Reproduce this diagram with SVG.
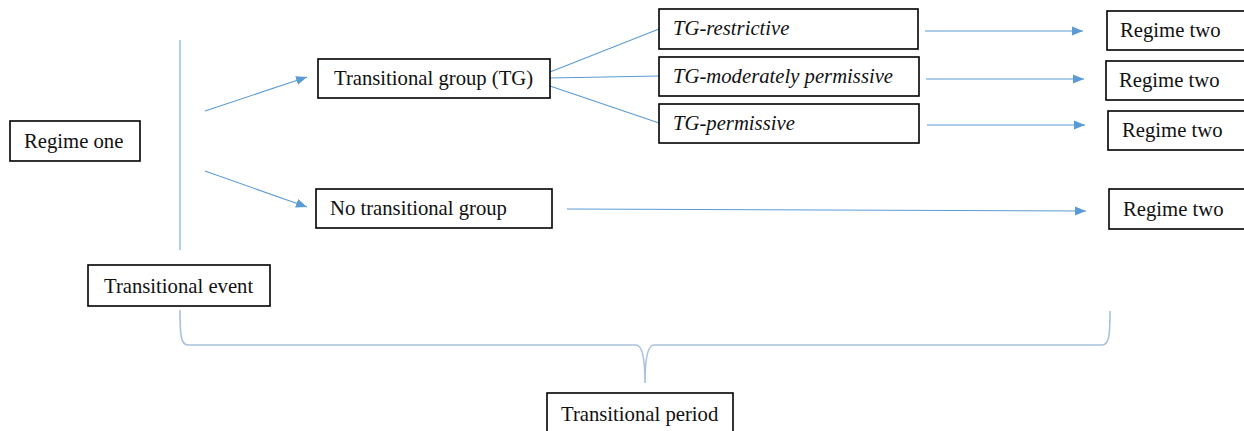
<svg xmlns="http://www.w3.org/2000/svg" width="1244" height="431" viewBox="0 0 1244 431">
  <style>
    .box { fill: #ffffff; stroke: #000000; stroke-width: 1.6; }
    .lbl { font-family: "Liberation Serif", "Times New Roman", serif; font-size: 20.7px; fill: #111111; }
    .it { font-style: italic; }
    .link { fill: none; stroke: #5B9BD5; stroke-width: 1.1; }
    .arrow { fill: none; stroke: #5B9BD5; stroke-width: 1.1; marker-end: url(#head); }
    .axis { fill: none; stroke: #9DC3E6; stroke-width: 1.6; }
    .brace { fill: none; stroke: #A9C1DC; stroke-width: 1.6; }
  </style>
  <defs>
    <marker id="head" markerUnits="userSpaceOnUse" markerWidth="12" markerHeight="10" refX="11" refY="5" orient="auto">
      <path d="M0,0.5 L11,5 L0,9.5 Z" fill="#5B9BD5"/>
    </marker>
  </defs>
  <rect width="1244" height="431" fill="#ffffff"/>

  <!-- connectors -->
  <g id="connectors">
    <line class="axis" x1="180" y1="40" x2="180" y2="250"/>
    <line class="arrow" x1="205" y1="111" x2="307" y2="77"/>
    <line class="arrow" x1="205" y1="171" x2="307" y2="207"/>
    <line class="link" x1="550" y1="72" x2="659" y2="29"/>
    <line class="link" x1="550" y1="78" x2="659" y2="76"/>
    <line class="link" x1="550" y1="86" x2="659" y2="123"/>
    <line class="arrow" x1="925" y1="31" x2="1083" y2="31"/>
    <line class="arrow" x1="926" y1="79" x2="1084" y2="79"/>
    <line class="arrow" x1="927" y1="125" x2="1085" y2="125"/>
    <line class="arrow" x1="567" y1="209" x2="1086" y2="211"/>
    <path class="brace" d="M180,310 C180,336 181,345 188,345 L636,345 C642,345 645,356 645,383 C645,356 648,345 654,345 L1102,345 C1109,345 1110,336 1110,311"/>
  </g>

  <g id="regime-one">
    <rect class="box" x="10" y="121" width="130" height="40"/>
    <text class="lbl" x="24" y="148">Regime one</text>
  </g>
  <g id="transitional-event">
    <rect class="box" x="88" y="265" width="182" height="41"/>
    <text class="lbl" x="104" y="293">Transitional event</text>
  </g>
  <g id="transitional-group">
    <rect class="box" x="318" y="59" width="232" height="39"/>
    <text class="lbl" x="334" y="85">Transitional group (TG)</text>
  </g>
  <g id="no-transitional-group">
    <rect class="box" x="316" y="189" width="236" height="39"/>
    <text class="lbl" x="330" y="215">No transitional group</text>
  </g>
  <g id="tg-restrictive">
    <rect class="box" x="659" y="9" width="259" height="40"/>
    <text class="lbl it" x="673" y="35">TG-restrictive</text>
  </g>
  <g id="tg-moderately-permissive">
    <rect class="box" x="659" y="57" width="260" height="39"/>
    <text class="lbl it" x="673" y="83">TG-moderately permissive</text>
  </g>
  <g id="tg-permissive">
    <rect class="box" x="659" y="104" width="260" height="39"/>
    <text class="lbl it" x="673" y="130">TG-permissive</text>
  </g>
  <g id="regime-two-a">
    <rect class="box" x="1107" y="11" width="150" height="39"/>
    <text class="lbl" x="1120" y="37">Regime two</text>
  </g>
  <g id="regime-two-b">
    <rect class="box" x="1106" y="61" width="150" height="39"/>
    <text class="lbl" x="1119" y="87">Regime two</text>
  </g>
  <g id="regime-two-c">
    <rect class="box" x="1108" y="111" width="150" height="39"/>
    <text class="lbl" x="1122" y="137">Regime two</text>
  </g>
  <g id="regime-two-d">
    <rect class="box" x="1109" y="189" width="150" height="40"/>
    <text class="lbl" x="1123" y="216">Regime two</text>
  </g>
  <g id="transitional-period">
    <rect class="box" x="547" y="393" width="186" height="50"/>
    <text class="lbl" x="561" y="421">Transitional period</text>
  </g>
</svg>
